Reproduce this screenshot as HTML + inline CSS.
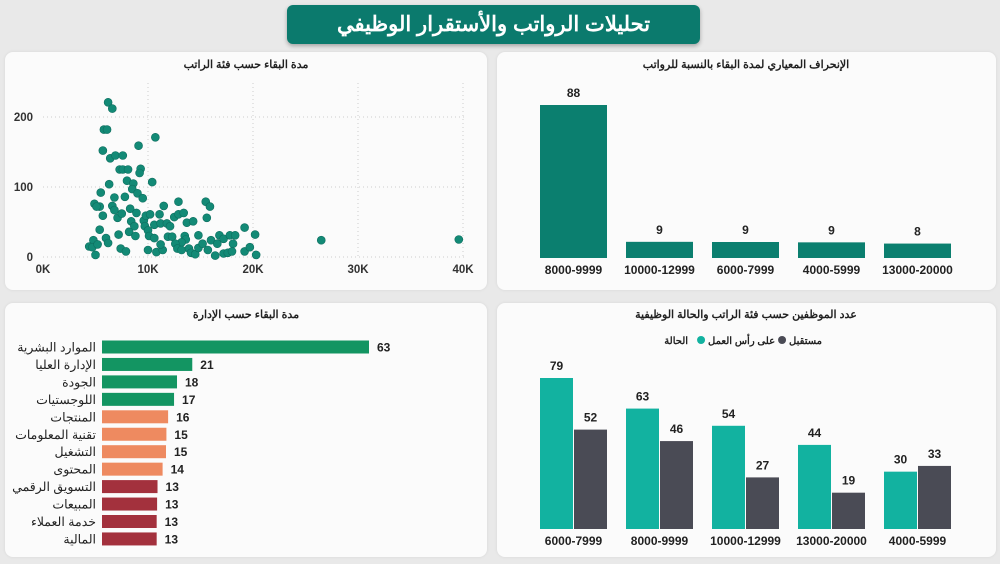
<!DOCTYPE html>
<html><head><meta charset="utf-8">
<style>
body{margin:0;width:1000px;height:564px;background:#e9e9e9;font-family:"Liberation Sans","Noto Sans CJK SC",sans-serif;overflow:hidden;position:relative}
.panel{position:absolute;background:#fbfbfb;border-radius:8px;box-shadow:0 0 3px rgba(0,0,0,.08)}
.ttl{position:absolute;left:287px;top:5px;width:413px;height:39px;background:#0b7a6d;border-radius:6px;color:#fff;font-weight:bold;font-size:21px;text-align:center;line-height:39px;box-shadow:0 2px 4px rgba(0,0,0,.3)}
svg{position:absolute;left:0;top:0}
</style></head><body>
<div class="ttl">تحليلات الرواتب والأستقرار الوظيفي</div>
<div class="panel" style="left:5px;top:52px;width:482px;height:238px"></div>
<div class="panel" style="left:497px;top:52px;width:499px;height:238px"></div>
<div class="panel" style="left:5px;top:303px;width:482px;height:254px"></div>
<div class="panel" style="left:497px;top:303px;width:499px;height:254px"></div>
<svg id="s" width="1000" height="564" font-family="Liberation Sans, Noto Sans CJK SC, sans-serif"></svg>
<script>
const scX=[6.2,6.6,5.8,6.1,10.7,9.1,5.7,6.4,6.9,7.6,7.3,7.6,8.1,9.3,9.2,8.0,8.6,6.3,10.4,8.5,9.0,9.5,5.5,6.8,7.8,4.9,5.4,5.1,6.6,6.8,5.7,7.1,7.5,8.3,8.9,8.4,8.7,8.2,8.8,5.4,7.2,6.0,4.8,4.4,4.7,5.2,6.2,5.0,7.4,7.9,9.6,9.8,10.2,9.7,10.0,10.1,10.6,10.6,11.1,11.2,11.5,11.8,12.1,11.9,12.3,12.5,12.9,12.9,13.4,13.7,14.3,13.5,13.6,13.2,12.6,12.8,13.2,13.9,14.1,14.5,14.8,14.8,15.2,15.5,15.9,15.6,15.7,16.0,16.4,16.6,16.8,17.2,17.2,17.6,17.8,18.1,18.3,18.0,10.8,10.0,11.4,11.2,19.2,19.2,19.7,20.2,20.3,26.5,39.6];
const scY=[221,212,182,182,171,159,152,141,145,145,125,125,125,126,120,109,105,104,107,97,91,84,92,85,86,76,72,72,73,67,59,56,62,69,63,51,44,36,30,39,32,27,24,15,14,18,20,3,12,8,52,59,61,44,38,30,27,46,61,48,73,48,44,29,29,57,79,61,63,49,51,30,25,21,19,12,10,12,6,4,31,13,19,79,72,56,10,24,2,19,31,26,5,6,31,19,31,8,7,10,10,18,8,42,14,32,3,24,25];
const scXTicks=["0K","10K","20K","30K","40K"];
const scYTicks=[0,100,200];
const sdCats=["8000-9999","10000-12999","6000-7999","4000-5999","13000-20000"];
const sdVals=[88,9,9,9,8];
const sdHeights=[88,9.3,9.2,9.0,8.3];
const deptCats=["الموارد البشرية","الإدارة العليا","الجودة","اللوجستيات","المنتجات","تقنية المعلومات","التشغيل","المحتوى","التسويق الرقمي","المبيعات","خدمة العملاء","المالية"];
const deptVals=[63,21.3,17.7,17.0,15.6,15.2,15.1,14.3,13.1,13.0,12.9,12.9];
const deptColors=["#139562","#139562","#139562","#139562","#ee8a60","#ee8a60","#ee8a60","#ee8a60","#a3313d","#a3313d","#a3313d","#a3313d"];
const stCats=["6000-7999","8000-9999","10000-12999","13000-20000","4000-5999"];
const stActive=[79,63,54,44,30];
const stFuture=[52,46,27,19,33];

const s=document.getElementById('s');const NS='http://www.w3.org/2000/svg';
function el(t,a,txt){const e=document.createElementNS(NS,t);for(const k in a)e.setAttribute(k,a[k]);if(txt!==undefined)e.textContent=txt;s.appendChild(e);return e;}
function title(x,y,t,n){const e=el('text',{x:x,y:y,'text-anchor':'middle','font-size':11,'font-weight':'bold',fill:'#222'},t);

}

// scatter
title(246,68,"مدة البقاء حسب فئة الراتب","scatter-title");
const sx=v=>43+v*10.5, sy=v=>257-v*0.7;
scXTicks.forEach((t,i)=>{const x=sx(i*10);
if(i>0){const g=el('line',{x1:x,x2:x,y1:83,y2:257,stroke:'#ccc','stroke-dasharray':'1,3'});}
const e=el('text',{x:x,y:273,'text-anchor':'middle','font-size':11.5,'font-weight':'bold',fill:'#333'},t);

});
scYTicks.forEach(v=>{const y=sy(v);
const g=el('line',{x1:43,x2:465,y1:y,y2:y,stroke:'#ccc','stroke-dasharray':'1,3'});


const e=el('text',{x:33,y:y+4,'text-anchor':'end','font-size':11.5,'font-weight':'bold',fill:'#333'},v);

});
scX.forEach((v,i)=>{const c=el('circle',{cx:sx(v),cy:sy(scY[i]),r:4,fill:'#138a76',stroke:'#0e6e5f','stroke-width':0.6});

});

// std dev bars
title(746,68,"الإنحراف المعياري لمدة البقاء بالنسبة للرواتب","stddev-title");
const base1=258,k1=153/88;
sdCats.forEach((c,i)=>{const x=540+i*86,h=sdHeights[i]*k1;
const r=el('rect',{x:x,y:base1-h,width:67,height:h,fill:'#0b7f6f'});


const v=el('text',{x:x+33.5,y:base1-h-8,'text-anchor':'middle','font-size':12,'font-weight':'bold',fill:'#222'},sdVals[i]);


const l=el('text',{x:x+33.5,y:274,'text-anchor':'middle','font-size':12,'font-weight':'bold',fill:'#222'},c);

});

// dept bars
title(246,318,"مدة البقاء حسب الإدارة","dept-title");
const k2=267/63;
deptCats.forEach((c,i)=>{const y=347+i*17.45,w=deptVals[i]*k2;
const r=el('rect',{x:102,y:y-6.5,width:w,height:13,fill:deptColors[i]});


const l=el('text',{x:96,y:y+4.5,'text-anchor':'end','font-size':12.5,fill:'#222'},c);


const v=el('text',{x:102+w+8,y:y+4.5,'font-size':12,'font-weight':'bold',fill:'#222'},Math.round(deptVals[i]));

});

// status grouped bars
title(746,318,"عدد الموظفين حسب فئة الراتب والحالة الوظيفية","status-title");
const lg=[["مستقبل",'#4a4b55'],["على رأس العمل",'#12b2a0']];
let cur=822;
lg.forEach(a=>{
const t=el('text',{x:cur,y:344,'text-anchor':'end','font-size':10,'font-weight':'bold',fill:'#222'},a[0]);


const w=t.getComputedTextLength();
cur=cur-w-7;
const d=el('circle',{cx:cur,cy:340,r:4,fill:a[1]});


cur-=7;});
const lt=el('text',{x:cur-6,y:344,'text-anchor':'end','font-size':10,'font-weight':'bold',fill:'#222'},"الحالة");


const base2=529,k3=151/79;
stCats.forEach((c,i)=>{const x=540+i*86;
[[stActive[i],'#12b2a0',x],[stFuture[i],'#4a4b55',x+34]].forEach(b=>{const h=b[0]*k3;
const r=el('rect',{x:b[2],y:base2-h,width:33,height:h,fill:b[1]});


const v=el('text',{x:b[2]+16.5,y:base2-h-8,'text-anchor':'middle','font-size':12,'font-weight':'bold',fill:'#222'},b[0]);

});
const l=el('text',{x:x+33.5,y:545,'text-anchor':'middle','font-size':12,'font-weight':'bold',fill:'#222'},c);

});
</script>
</body></html>
